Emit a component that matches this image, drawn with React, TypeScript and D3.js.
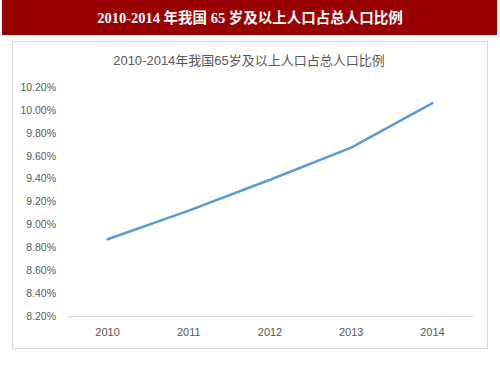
import React, { useEffect, useRef } from 'react';
import * as d3 from 'd3';

// data
const years = ['2010', '2011', '2012', '2013', '2014'];
const shares = [8.87, 9.12, 9.39, 9.67, 10.06];
const yTicks = [8.2, 8.4, 8.6, 8.8, 9.0, 9.2, 9.4, 9.6, 9.8, 10.0, 10.2];
const bannerTitle = '2010-2014 年我国 65 岁及以上人口占总人口比例';
const chartTitle = '2010-2014年我国65岁及以上人口占总人口比例';

const App = () => {
    const svgRef = useRef<SVGSVGElement>(null);

    useEffect(() => {
        const width = 500;
        const height = 375;
        const margin = { top: 87, right: 27, bottom: 59, left: 67 };

        const svg = d3.select(svgRef.current);
        svg.selectAll('*').remove();
        svg.attr('width', width).attr('height', height);

        svg.append('rect').attr('width', width).attr('height', height).attr('fill', '#fff');

        // red banner
        svg.append('rect')
            .attr('x', 2).attr('y', 0)
            .attr('width', 495).attr('height', 35)
            .attr('fill', '#990000');
        svg.append('text')
            .attr('x', 250).attr('y', 18)
            .attr('text-anchor', 'middle')
            .attr('dominant-baseline', 'central')
            .attr('fill', '#fff')
            .style('font-family', '"Liberation Serif", "Noto Sans CJK SC", serif')
            .style('font-weight', 'bold')
            .style('font-size', '14.5px')
            .text(bannerTitle);

        // chart frame
        svg.append('rect')
            .attr('x', 12.5).attr('y', 41.5)
            .attr('width', 475).attr('height', 307)
            .attr('fill', '#fff')
            .attr('stroke', '#d9d9d9');

        svg.append('text')
            .attr('x', 249).attr('y', 60)
            .attr('text-anchor', 'middle')
            .attr('dominant-baseline', 'central')
            .attr('fill', '#595959')
            .style('font-family', '"Liberation Sans", "Noto Sans CJK SC", sans-serif')
            .style('font-size', '13px')
            .text(chartTitle);

        const x = d3.scaleBand()
            .domain(years)
            .range([margin.left, width - margin.right]);

        const y = d3.scaleLinear()
            .domain([8.2, 10.2])
            .range([height - margin.bottom, margin.top]);

        // y axis labels (no axis line, no grid)
        const yAxis = svg.append('g')
            .attr('transform', `translate(${margin.left - 11},0)`)
            .call(d3.axisLeft(y).tickValues(yTicks).tickSize(0).tickPadding(0)
                .tickFormat(d => `${(+d).toFixed(2)}%`));
        yAxis.select('.domain').remove();
        yAxis.selectAll('text')
            .attr('fill', '#595959')
            .style('font-family', '"Liberation Sans", sans-serif')
            .style('font-size', '10.5px');

        // x axis
        const xAxis = svg.append('g')
            .attr('transform', `translate(0,${height - margin.bottom})`)
            .call(d3.axisBottom(x).tickSize(0).tickPadding(12));
        xAxis.select('.domain').attr('stroke', '#d9d9d9');
        xAxis.selectAll('text')
            .attr('fill', '#595959')
            .style('font-family', '"Liberation Sans", sans-serif')
            .style('font-size', '11px');

        const line = d3.line<number>()
            .x((d, i) => x(years[i])! + x.bandwidth() / 2)
            .y(d => y(d));

        svg.append('path')
            .datum(shares)
            .attr('fill', 'none')
            .attr('stroke', '#5b9bd5')
            .attr('stroke-width', 2.5)
            .attr('stroke-linejoin', 'round')
            .attr('stroke-linecap', 'round')
            .attr('d', line);
    }, []);

    return (
        <div style={{ position: 'absolute', left: 0, top: 0 }}>
            <svg ref={svgRef} style={{ display: 'block' }}></svg>
        </div>
    );
};

export default App;
